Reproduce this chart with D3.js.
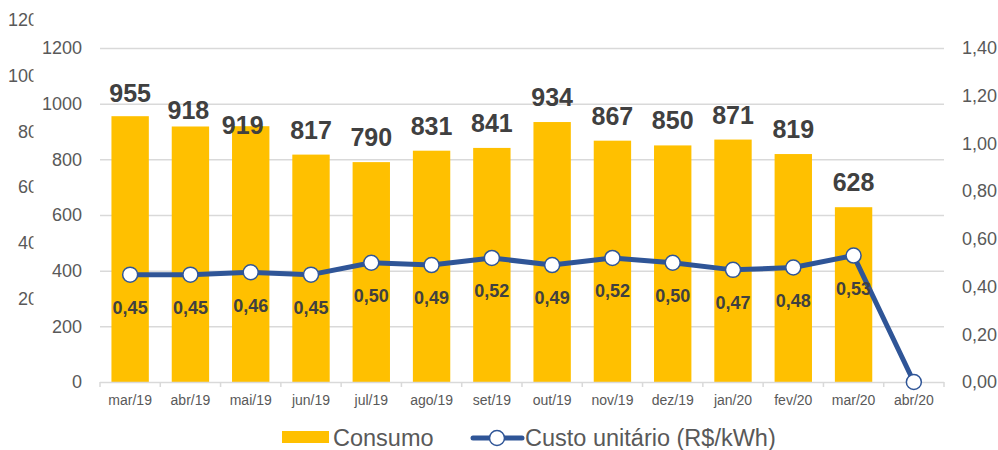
<!DOCTYPE html>
<html>
<head>
<meta charset="utf-8">
<script src="https://cdn.jsdelivr.net/npm/d3@7"></script>
<style>
  body { margin: 0; background: #fff; }
  svg { display: block; font-family: "Liberation Sans", Arial, sans-serif; }
</style>
</head>
<body>
<div class="contents"></div>
<script>
// data
var months = ["mar/19", "abr/19", "mai/19", "jun/19", "jul/19", "ago/19", "set/19",
              "out/19", "nov/19", "dez/19", "jan/20", "fev/20", "mar/20", "abr/20"];
var consumo = [955, 918, 919, 817, 790, 831, 841, 934, 867, 850, 871, 819, 628, null];
var custo = [0.45, 0.45, 0.46, 0.45, 0.50, 0.49, 0.52, 0.49, 0.52, 0.50, 0.47, 0.48, 0.53, 0.00];
var leftTicks = [0, 200, 400, 600, 800, 1000, 1200];
var rightTicks = [0, 0.2, 0.4, 0.6, 0.8, 1.0, 1.2, 1.4];
var ghostTicks = [200, 400, 600, 800, 1000, 1200];

var svgWidth = 998, svgHeight = 450;
var margin = { top: 48, right: 54, bottom: 68, left: 100 };
var width = svgWidth - margin.left - margin.right,
    height = svgHeight - margin.top - margin.bottom;

var barColor = "#FFC000", lineColor = "#2F5597", textColor = "#595959", labelColor = "#404040";

// a few labels were nudged by hand in the original
var barLabelShift = { "mar/19": [0, 2], "abr/19": [-2, 9], "mai/19": [-8, 24] };

var ptBR = d3.formatLocale({ decimal: ",", thousands: ".", grouping: [3], currency: ["R$", ""] });
var fmt2 = ptBR.format(".2f");

var svg = d3.select(".contents").append("svg")
    .attr("width", svgWidth)
    .attr("height", svgHeight);

// leftover clipped axis labels at the far left
svg.append("defs").append("clipPath")
    .attr("id", "ghost-clip")
    .append("rect")
    .attr("x", 0).attr("y", 0)
    .attr("width", 33.5).attr("height", svgHeight);

var ghostY = d3.scaleLinear().domain([0, 1200]).range([354, 20]);
svg.append("g")
    .attr("clip-path", "url(#ghost-clip)")
    .selectAll("text")
    .data(ghostTicks)
    .enter().append("text")
    .attr("x", 48)
    .attr("y", function(d) { return ghostY(d); })
    .attr("dy", "0.35em")
    .attr("text-anchor", "end")
    .attr("font-size", 18)
    .attr("fill", textColor)
    .text(function(d) { return d; });

var g = svg.append("g")
    .attr("transform", "translate(" + margin.left + "," + margin.top + ")");

var x = d3.scaleBand().domain(months).range([0, width]).paddingInner(0.38).paddingOuter(0.19);
var y = d3.scaleLinear().domain([0, 1200]).range([height, 0]);
var y2 = d3.scaleLinear().domain([0, 1.4]).range([height, 0]);

// gridlines
g.append("g")
    .selectAll("line")
    .data(leftTicks.slice(1))
    .enter().append("line")
    .attr("x1", 0).attr("x2", width)
    .attr("y1", function(d) { return y(d) + 0.5; })
    .attr("y2", function(d) { return y(d) + 0.5; })
    .attr("stroke", "#D9D9D9")
    .attr("stroke-width", 1.5);

// bars
g.append("g")
    .selectAll("rect")
    .data(months.map(function(m, i) { return { m: m, v: consumo[i] }; })
        .filter(function(d) { return d.v != null; }))
    .enter().append("rect")
    .attr("x", function(d) { return x(d.m); })
    .attr("y", function(d) { return y(d.v); })
    .attr("width", x.bandwidth())
    .attr("height", function(d) { return height - y(d.v); })
    .attr("fill", barColor);

// x axis line and boundary ticks
g.append("line")
    .attr("x1", 0).attr("x2", width)
    .attr("y1", height + 0.5).attr("y2", height + 0.5)
    .attr("stroke", "#D9D9D9")
    .attr("stroke-width", 1.5);

var bounds = d3.range(months.length + 1).map(function(i) { return i * x.step(); });
g.append("g")
    .selectAll("line")
    .data(bounds)
    .enter().append("line")
    .attr("x1", function(d) { return d; }).attr("x2", function(d) { return d; })
    .attr("y1", height).attr("y2", height + 5)
    .attr("stroke", "#D9D9D9")
    .attr("stroke-width", 1.5);

var xAxis = g.append("g")
    .attr("transform", "translate(0," + height + ")")
    .call(d3.axisBottom(x).tickSize(0).tickPadding(13));
xAxis.select(".domain").remove();
xAxis.selectAll("text")
    .attr("font-size", 14)
    .attr("font-family", "Liberation Sans, Arial, sans-serif")
    .attr("fill", textColor);

var yAxis = g.append("g")
    .call(d3.axisLeft(y).tickValues(leftTicks).tickSize(0).tickPadding(18).tickFormat(d3.format("d")));
yAxis.select(".domain").remove();
yAxis.selectAll("text")
    .attr("font-size", 18)
    .attr("font-family", "Liberation Sans, Arial, sans-serif")
    .attr("fill", textColor);

var y2Axis = g.append("g")
    .attr("transform", "translate(" + width + ",0)")
    .call(d3.axisRight(y2).tickValues(rightTicks).tickSize(0).tickPadding(18).tickFormat(fmt2));
y2Axis.select(".domain").remove();
y2Axis.selectAll("text")
    .attr("font-size", 18)
    .attr("font-family", "Liberation Sans, Arial, sans-serif")
    .attr("fill", textColor);

// bar labels
g.append("g")
    .selectAll("text")
    .data(months.map(function(m, i) { return { m: m, v: consumo[i] }; })
        .filter(function(d) { return d.v != null; }))
    .enter().append("text")
    .attr("x", function(d) {
        var s = barLabelShift[d.m] || [0, 0];
        return x(d.m) + x.bandwidth() / 2 + s[0];
    })
    .attr("y", function(d) {
        var s = barLabelShift[d.m] || [0, 0];
        return y(d.v) - 16 + s[1];
    })
    .attr("text-anchor", "middle")
    .attr("font-size", 25)
    .attr("font-weight", "bold")
    .attr("fill", labelColor)
    .text(function(d) { return d.v; });

// line
var pts = months.map(function(m, i) { return { m: m, v: custo[i] }; });
var line = d3.line()
    .x(function(d) { return x(d.m) + x.bandwidth() / 2; })
    .y(function(d) { return y2(d.v); });

g.append("path")
    .datum(pts)
    .attr("d", line)
    .attr("fill", "none")
    .attr("stroke", lineColor)
    .attr("stroke-width", 5)
    .attr("stroke-linejoin", "round");

g.append("g")
    .selectAll("circle")
    .data(pts)
    .enter().append("circle")
    .attr("cx", function(d) { return x(d.m) + x.bandwidth() / 2; })
    .attr("cy", function(d) { return y2(d.v); })
    .attr("r", 7.5)
    .attr("fill", "#fff")
    .attr("stroke", lineColor)
    .attr("stroke-width", 1.5);

g.append("g")
    .selectAll("text")
    .data(pts.filter(function(d) { return d.v > 0; }))
    .enter().append("text")
    .attr("x", function(d) { return x(d.m) + x.bandwidth() / 2; })
    .attr("y", function(d) { return y2(d.v) + 33; })
    .attr("dy", "0.35em")
    .attr("text-anchor", "middle")
    .attr("font-size", 18)
    .attr("font-weight", "bold")
    .attr("fill", labelColor)
    .text(function(d) { return fmt2(d.v); });

// legend
var legend = svg.append("g");
legend.append("rect")
    .attr("x", 282).attr("y", 431)
    .attr("width", 47).attr("height", 12)
    .attr("fill", barColor);
legend.append("text")
    .attr("x", 333).attr("y", 446)
    .attr("font-size", 23.5)
    .attr("fill", textColor)
    .text("Consumo");
legend.append("line")
    .attr("x1", 473).attr("x2", 522)
    .attr("y1", 438).attr("y2", 438)
    .attr("stroke", lineColor)
    .attr("stroke-width", 5)
    .attr("stroke-linecap", "round");
legend.append("circle")
    .attr("cx", 497).attr("cy", 438).attr("r", 7.5)
    .attr("fill", "#fff")
    .attr("stroke", lineColor)
    .attr("stroke-width", 1.5);
legend.append("text")
    .attr("x", 525).attr("y", 446)
    .attr("font-size", 23.5)
    .attr("fill", textColor)
    .text("Custo unitário (R$/kWh)");
</script>
</body>
</html>
